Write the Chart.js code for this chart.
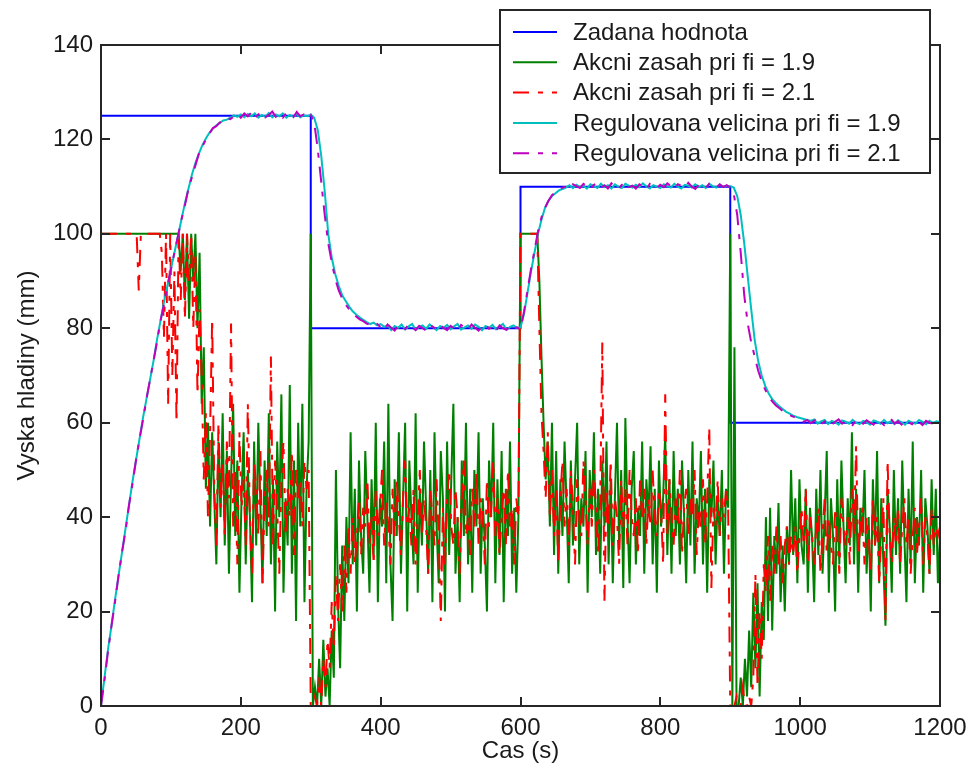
<!DOCTYPE html>
<html>
<head>
<meta charset="utf-8">
<script src="https://cdn.jsdelivr.net/npm/chart.js@4.4.1/dist/chart.umd.min.js"></script>
<style>
    html, body { margin: 0; padding: 0; background: #fff; }
    #graf { display: block; }
</style>
</head>
<body>
<canvas id="graf" width="971" height="775"></canvas>
<script>
// vzorkovani odectenych hodnot (s)
const krokAkce = 3;
const krokRegulace = 5;

// zadana hodnota - skoky
const zadanaCas = [0, 300, 300, 600, 600, 900, 900, 1200];
const zadanaHodnota = [125, 125, 80, 80, 110, 110, 60, 60];

// akcni zasah pri fi = 1.9 (t = 0, 3, ... 1200 s, jeden radek = 60 s)
const akcniZasah19 = [
    100,100,100,100,100,100,100,100,100,100,100,100,100,100,100,100,100,100,100,100,
    100,100,100,100,100,100,100,100,100,100,100,100,100,100,100,100,100,100,92,100,
    86,100,82,100,90,100,80,96,64,76,46,60,38,58,44,30,56,40,62,34,
    54,28,48,64,36,52,24,44,58,30,50,40,22,56,34,60,42,26,52,36,
    62,30,48,20,56,40,66,24,44,34,68,28,52,18,60,38,64,22,46,56,
    100,0,4,0,10,0,14,2,8,0,16,6,50,22,8,34,18,40,26,58,
    30,46,20,52,36,28,54,40,24,48,32,60,22,44,38,56,26,64,30,18,
    48,36,58,28,44,60,20,52,40,30,62,24,46,34,56,42,28,50,22,58,
    38,26,54,44,20,56,32,48,64,28,40,22,52,36,60,30,46,24,50,38,
    58,28,44,34,20,52,40,60,26,48,32,54,22,46,36,56,28,42,24,40,
    100,100,100,100,100,100,100,100,100,90,74,60,48,56,38,60,32,54,28,48,
    36,56,42,26,52,34,48,60,30,44,38,54,24,50,40,58,32,46,28,52,
    38,56,30,48,26,44,60,34,50,25,61,40,26,46,54,30,42,36,56,28,
    48,40,55,30,46,24,52,38,44,58,32,48,28,54,36,46,30,52,40,26,
    50,34,56,28,44,38,54,30,46,24,48,40,52,30,44,36,50,28,46,42,
    100,0,76,0,0,6,0,10,2,16,4,24,8,26,2,22,14,40,18,42,
    16,36,28,43,22,34,20,38,30,50,32,44,26,48,34,30,46,24,42,36,
    22,46,32,50,28,40,54,24,44,36,20,48,30,52,38,26,44,34,58,30,
    46,24,42,36,50,28,40,20,48,34,54,26,44,30,17,46,38,24,50,32,
    44,28,52,36,22,46,30,56,26,40,34,50,24,44,38,28,48,32,46,26,
    36
];

// akcni zasah pri fi = 2.1
const akcniZasah21 = [
    100,100,100,100,100,100,100,100,100,100,100,100,100,100,100,100,100,100,88,100,
    100,100,100,100,100,100,100,100,100,96,78,100,64,100,70,92,60,100,86,100,
    82,100,90,100,80,96,66,84,70,48,62,40,58,82,46,34,60,42,52,36,
    56,44,81,38,50,30,58,42,48,34,64,40,28,52,46,36,54,26,44,50,
    38,74,34,52,42,28,48,56,36,46,40,54,32,50,44,48,38,52,46,50,
    0,0,2,0,6,0,10,4,14,8,22,12,28,18,30,20,34,24,38,28,
    40,30,36,44,32,42,38,48,34,40,30,46,36,42,50,34,44,38,30,46,
    36,48,40,32,44,52,38,42,34,46,30,40,50,36,44,38,28,46,40,34,
    48,36,18,42,30,44,50,38,34,46,40,28,44,52,36,40,32,46,38,50,
    34,44,40,30,48,38,42,52,36,44,32,40,46,34,50,38,42,30,44,40,
    100,100,100,100,100,100,100,100,100,80,62,54,44,58,40,50,36,46,30,44,
    52,38,46,34,50,42,30,48,40,36,52,44,34,46,38,50,42,32,44,77,
    22,46,38,52,34,44,40,30,48,38,46,34,50,40,36,44,32,48,40,46,
    34,44,38,50,40,36,46,42,30,66,36,48,40,34,44,38,50,32,42,46,
    36,44,40,50,32,42,38,48,34,44,59,25,42,38,48,36,44,40,46,42,
    0,0,0,2,0,0,4,0,0,2,0,6,28,4,20,10,30,24,36,22,
    34,28,38,30,36,26,34,38,30,36,32,38,28,36,42,34,46,30,40,36,
    30,38,42,28,36,44,32,40,34,30,42,36,28,44,38,34,40,30,46,36,
    55,32,38,42,30,40,36,28,44,34,40,26,36,44,18,52,36,30,40,34,
    42,30,38,44,34,40,28,36,42,32,38,44,30,40,36,28,42,34,38,36,
    38
];

// regulovana velicina pri fi = 1.9 (t = 0, 5, ... 1200 s, jeden radek = 100 s)
const regulovana19 = [
    0,6,12,17,22.5,27.5,32.5,37.5,42.5,47.5,52,56.5,61,65,69,73,77.5,81.5,85.5,89,
    92.5,96,99.5,103,106.5,109.5,112.5,115,117,118.8,120.2,121.4,122.3,123,123.5,124,124.2,124.6,125.1,124.8,
    125.3,124.7,125.4,124.9,125.5,124.6,125.2,124.8,125.6,124.7,125.3,124.9,125.5,124.6,125.2,124.8,125.4,124.7,125.1,124.9,
    125.3,124.6,122,116.5,109,100,95,91.5,89,87,85.8,84.6,83.6,82.9,82.3,81.8,81.3,80.9,81.2,80.6,
    80.9,80.3,80.7,79.6,80.5,80.1,80.8,79.8,80.4,80.9,79.7,80.3,80.6,79.9,80.8,80.2,79.6,80.5,80.1,80.7,
    79.8,80.4,80.9,79.7,80.2,80.6,79.9,80.8,80.3,79.6,80.5,80.1,80.7,79.8,80.4,80.9,79.7,80.3,80.6,80.1,
    80.2,83,87.5,92,96,100,103,105.5,107,108,108.6,109.2,109.5,109.8,110.3,109.7,110.4,109.9,110.2,109.6,
    110.5,110.1,109.7,110.6,109.9,110.3,109.6,110.5,110,109.7,110.6,110.2,109.8,110.4,109.9,110.7,110.1,109.6,110.3,110,
    109.7,110.5,110.1,109.8,110.6,110,109.6,110.4,110.2,109.8,110.5,109.9,110.3,109.7,110.6,110.1,109.8,110.4,110,110.2,
    110.1,109.8,108,104,98,91,84,77.5,73,70,67.8,66.2,65,64.2,63.5,62.9,62.3,61.9,61.5,61.2,
    61,60.8,60.6,60.4,60.7,59.8,60.3,60.6,59.7,60.4,60.1,59.6,60.5,60.2,59.8,60.6,60,59.7,60.4,60.1,
    59.6,60.5,60.2,59.8,60.6,59.9,60.3,59.7,60.5,60.1,59.6,60.4,60,59.8,60.6,60.2,59.7,60.4,59.9,60.3,
    60.1
];

// regulovana velicina pri fi = 2.1
const regulovana21 = [
    0,5.5,11.5,17,22,27.5,32.5,37,42.5,47,52,56.5,60.5,65,69,73,77,81.5,85,89,
    92.5,96,99.5,103,106,109.5,112,114.5,117,118.5,120,121.2,122.4,122.8,123.6,123.8,124.5,124.3,124.9,125.4,
    124.6,125.5,124.9,125.7,124.5,125.3,125.8,124.7,125.2,125.9,124.8,125.4,124.6,125.6,125.1,124.7,125.8,124.9,125.3,124.6,
    125.2,123.5,118,111,104,98,94,90.5,88,86.3,85,84,83.2,82.5,81.9,81.5,81,80.7,80.4,80.9,
    80.2,79.6,80.8,80.1,79.5,80.6,80.3,79.8,80.9,80.2,79.6,80.5,80,79.5,80.7,80.3,79.7,80.6,80.1,79.6,
    80.5,80,79.4,80.7,80.2,79.7,80.8,80.1,79.5,80.4,80.8,79.9,80.3,79.4,80.6,80,79.7,80.5,79.8,80.2,
    79.8,83.5,88,92.5,96.5,100.5,103.5,105.5,107,108.2,108.8,109.3,109.8,110,109.6,110.5,110.1,109.7,110.6,110,
    109.5,110.4,110.8,109.8,110.3,109.6,110.7,110.1,109.5,110.4,110.9,109.9,110.2,109.6,110.5,110,109.4,110.6,110.2,109.7,
    110.4,109.9,110.7,110.1,109.6,110.5,110.2,109.8,110.8,110,109.5,110.4,110.1,109.7,110.6,110.3,109.8,110.5,109.9,110.3,
    109.8,108.5,104,96,87,81,77,74,71,68.8,67,65.6,64.5,63.7,63.1,62.5,62,61.6,61.3,61,
    60.7,60.2,60.6,59.9,60.4,60.8,59.7,60.3,60.5,59.6,60.2,60.7,59.8,60.4,60.1,59.5,60.6,60.2,59.8,60.5,
    60,59.6,60.7,60.1,59.5,60.4,60.8,59.8,60.3,59.6,60.5,60.1,59.7,60.6,60.2,59.5,60.4,60,59.8,60.3,
    59.9
];

// popisky os
const xTicky = [0, 200, 400, 600, 800, 1000, 1200];
const yTicky = [0, 20, 40, 60, 80, 100, 120, 140];

const carkaTecka = [16, 9, 5, 9];

function body(hodnoty, krok) {
    return hodnoty.map((v, i) => ({ x: i * krok, y: v }));
}

// ramecek kolem grafu s ticky dovnitr
const ramecek = {
    id: 'ramecek',
    afterDatasetsDraw(chart) {
        const { ctx, chartArea: a, scales: { x, y } } = chart;
        const delka = 9;
        ctx.save();
        ctx.strokeStyle = '#262626';
        ctx.lineWidth = 2;
        ctx.strokeRect(a.left, a.top, a.right - a.left, a.bottom - a.top);
        ctx.beginPath();
        x.ticks.forEach(t => {
            const px = Math.round(x.getPixelForValue(t.value));
            ctx.moveTo(px, a.bottom); ctx.lineTo(px, a.bottom - delka);
            ctx.moveTo(px, a.top); ctx.lineTo(px, a.top + delka);
        });
        y.ticks.forEach(t => {
            const py = Math.round(y.getPixelForValue(t.value));
            ctx.moveTo(a.left, py); ctx.lineTo(a.left + delka, py);
            ctx.moveTo(a.right, py); ctx.lineTo(a.right - delka, py);
        });
        ctx.stroke();
        ctx.restore();
    }
};

// legenda v pravem hornim rohu (prekryva horni okraj)
const legenda = {
    id: 'legenda',
    afterDraw(chart) {
        const { ctx, chartArea: a } = chart;
        const sirka = 430, vyska = 163;
        const bx = a.right - 10 - sirka;
        const by = a.top - 35;
        ctx.save();
        ctx.fillStyle = '#fff';
        ctx.fillRect(bx, by, sirka, vyska);
        ctx.strokeStyle = '#262626';
        ctx.lineWidth = 2;
        ctx.strokeRect(bx, by, sirka, vyska);
        ctx.font = "24px 'Liberation Sans', Arial, sans-serif";
        ctx.textBaseline = 'middle';
        ctx.textAlign = 'left';
        chart.data.datasets.forEach((ds, i) => {
            const ry = by + 22 + i * 30.3;
            ctx.beginPath();
            ctx.strokeStyle = ds.borderColor;
            ctx.lineWidth = 2;
            ctx.setLineDash(ds.borderDash || []);
            ctx.moveTo(bx + 13, ry);
            ctx.lineTo(bx + 57, ry);
            ctx.stroke();
            ctx.setLineDash([]);
            ctx.fillStyle = '#1a1a1a';
            ctx.fillText(ds.label, bx + 73, ry + 1);
        });
        ctx.restore();
    }
};

Chart.defaults.font.family = "'Liberation Sans', Arial, sans-serif";
Chart.defaults.font.size = 24;
Chart.defaults.color = '#1a1a1a';

const graf = document.getElementById('graf');

new Chart(graf.getContext('2d'), {
    type: 'line',
    data: {
        datasets: [
            {
                label: 'Zadana hodnota',
                data: zadanaCas.map((t, i) => ({ x: t, y: zadanaHodnota[i] })),
                borderColor: '#0000ff',
                order: 5
            },
            {
                label: 'Akcni zasah pri fi = 1.9',
                data: body(akcniZasah19, krokAkce),
                borderColor: '#008000',
                order: 4
            },
            {
                label: 'Akcni zasah pri fi = 2.1',
                data: body(akcniZasah21, krokAkce),
                borderColor: '#ff0000',
                borderDash: carkaTecka,
                order: 3
            },
            {
                label: 'Regulovana velicina pri fi = 1.9',
                data: body(regulovana19, krokRegulace),
                borderColor: '#00bfbf',
                order: 2
            },
            {
                label: 'Regulovana velicina pri fi = 2.1',
                data: body(regulovana21, krokRegulace),
                borderColor: '#bf00bf',
                borderDash: carkaTecka,
                order: 1
            }
        ]
    },
    options: {
        responsive: false,
        animation: false,
        devicePixelRatio: 1,
        layout: {
            padding: { top: 45, right: 31, left: 0, bottom: 0 }
        },
        elements: {
            line: { borderWidth: 2, tension: 0, fill: false },
            point: { radius: 0, hoverRadius: 0 }
        },
        scales: {
            x: {
                type: 'linear',
                min: 0,
                max: 1200,
                afterBuildTicks: s => { s.ticks = xTicky.map(v => ({ value: v })); },
                afterFit: s => { s.height = 69; s.paddingLeft = 0; s.paddingRight = 0; },
                grid: { display: false, drawTicks: false },
                border: { display: false },
                ticks: { padding: 8, maxRotation: 0, autoSkip: false, callback: v => String(v) },
                title: {
                    display: true,
                    text: 'Cas (s)',
                    padding: { top: 0, bottom: 9 }
                }
            },
            y: {
                type: 'linear',
                min: 0,
                max: 140,
                afterBuildTicks: s => { s.ticks = yTicky.map(v => ({ value: v })); },
                afterFit: s => { s.width = 101; s.paddingTop = 0; s.paddingBottom = 0; },
                grid: { display: false, drawTicks: false },
                border: { display: false },
                ticks: { padding: 8, autoSkip: false, callback: v => String(v) },
                title: {
                    display: true,
                    text: 'Vyska hladiny (mm)',
                    padding: { top: 13, bottom: 0 }
                }
            }
        },
        plugins: {
            legend: { display: false },
            tooltip: { enabled: false }
        }
    },
    plugins: [ramecek, legenda]
});
</script>
</body>
</html>
